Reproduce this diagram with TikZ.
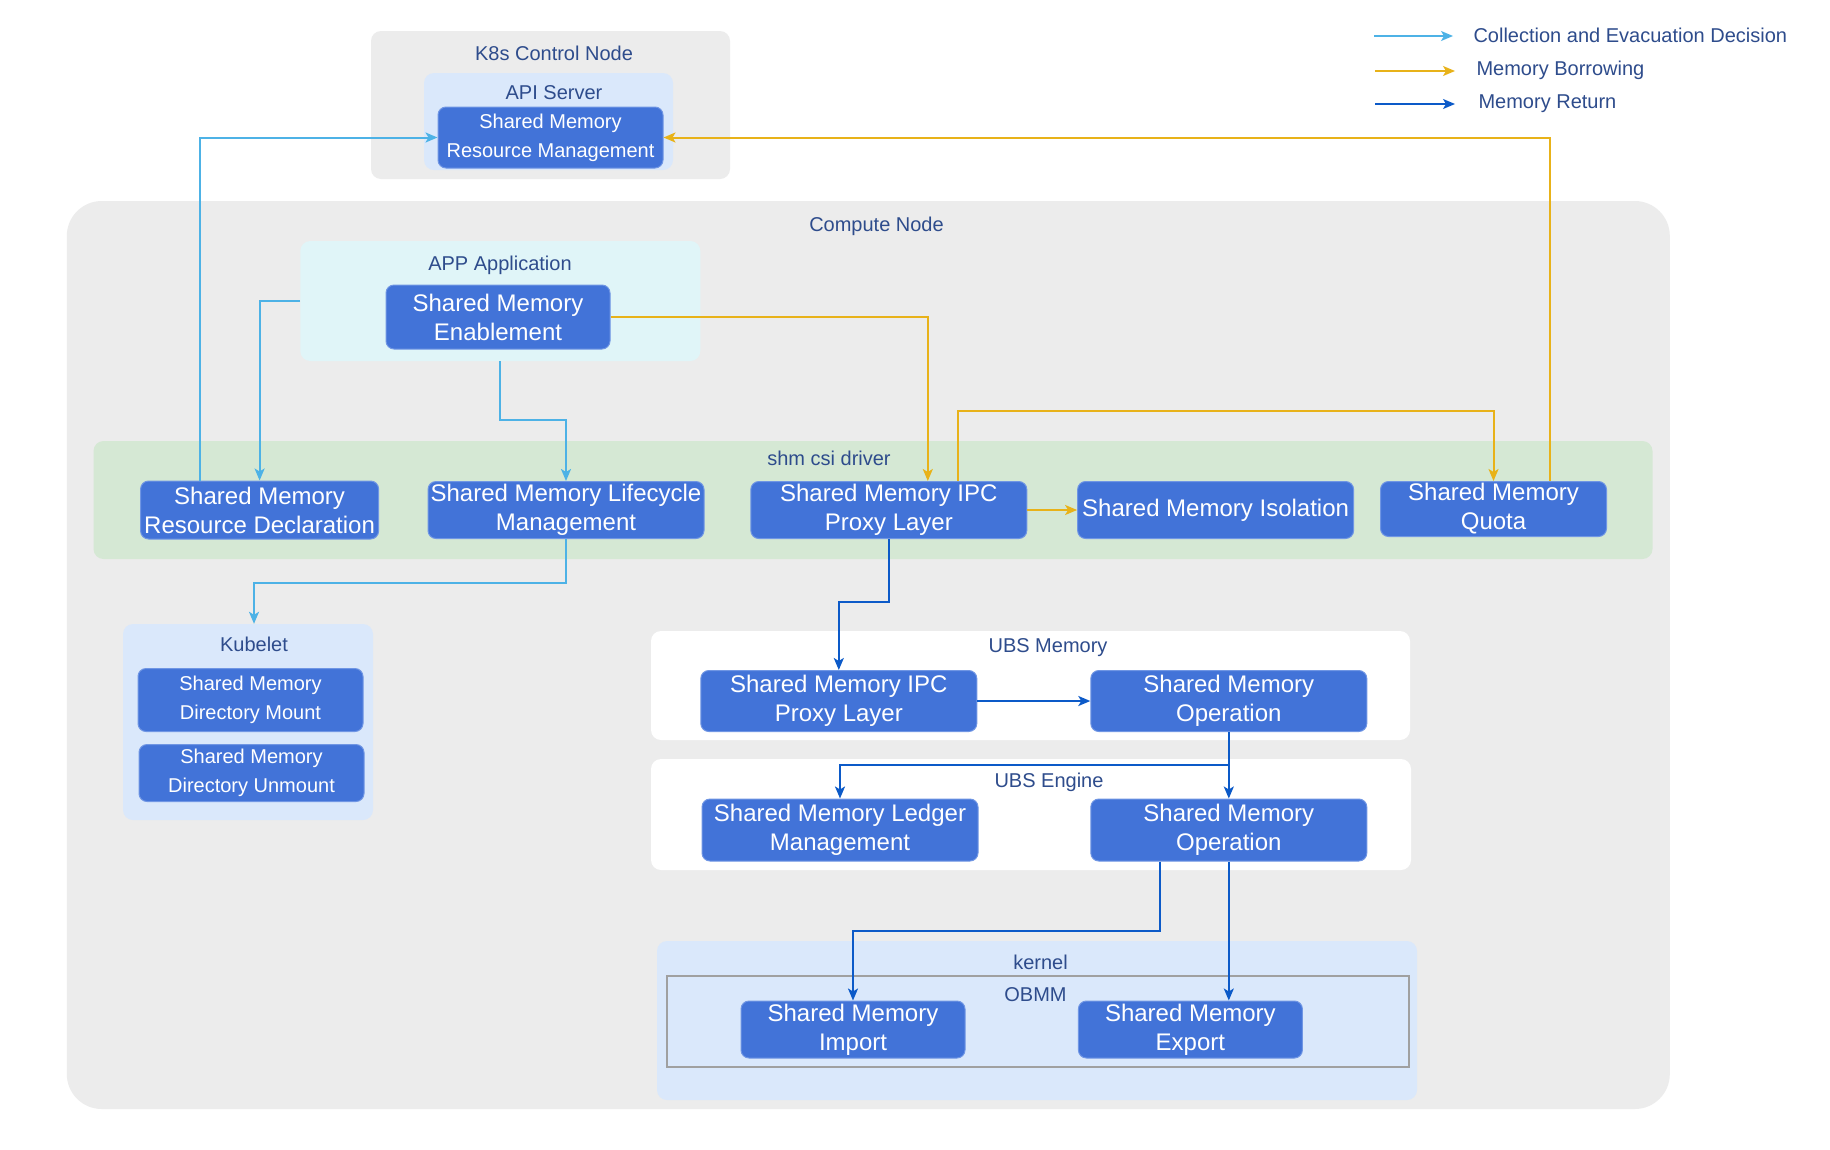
\documentclass[tikz,border=0pt]{standalone}
\usepackage{fontspec}
\setmainfont{Liberation Sans}
\usetikzlibrary{arrows.meta}

\definecolor{smfill}{RGB}{66,115,216}
\definecolor{smedge}{RGB}{112,150,228}
\definecolor{graybg}{RGB}{236,236,236}
\definecolor{paleblue}{RGB}{218,232,251}
\definecolor{palecyan}{RGB}{224,245,248}
\definecolor{palegreen}{RGB}{213,232,212}
\definecolor{labelblue}{RGB}{46,76,140}
\definecolor{cdblue}{RGB}{77,178,230}
\definecolor{mbyellow}{RGB}{232,178,25}
\definecolor{mrblue}{RGB}{12,90,200}
\definecolor{obmmgray}{RGB}{160,160,160}

\tikzset{
  smbox/.style={draw=smedge, fill=smfill, text=white, rounded corners=8pt, align=center,
    line width=1pt, inner sep=0pt, font=\fontsize{24}{29}\selectfont},
  smsmall/.style={smbox, font=\fontsize{20}{29}\selectfont},
  group/.style={rounded corners=10pt, inner sep=0pt},
  grouplabel/.style={text=labelblue, font=\fontsize{20}{24}\selectfont},
  cd/.style={draw=cdblue, line width=2pt, -{Stealth[length=12pt,width=10pt,inset=3pt]}},
  mb/.style={draw=mbyellow, line width=2pt, -{Stealth[length=12pt,width=10pt,inset=3pt]}},
  mr/.style={draw=mrblue, line width=2pt, -{Stealth[length=12pt,width=10pt,inset=3pt]}}
}

\begin{document}
\begin{tikzpicture}[x=1pt, y=-1pt]
    \useasboundingbox[fill=white] (0,0) rectangle (1830,1149);

    % Draw the K8s control node
    \node[group, fill=graybg, minimum width=359pt, minimum height=148pt] (k8s) at (550.5,105) {};
    \node[grouplabel] (k8slbl) at (554,53) {K8s Control Node};
    \node[group, fill=paleblue, minimum width=249pt, minimum height=97pt] (apisrv) at (548.5,121.5) {};
    \node[grouplabel] (apilbl) at (554,93) {API Server};
    \node[smsmall, minimum width=225pt, minimum height=61pt] (smrm) at (550.5,137.5) {Shared Memory\\Resource Management};

    % Draw the compute node
    \node[group, rounded corners=35pt, fill=graybg, minimum width=1603pt, minimum height=908pt] (compute) at (868.3,655) {};
    \node[grouplabel] (computelbl) at (876.5,226) {Compute Node};

    % APP application
    \node[group, fill=palecyan, minimum width=400pt, minimum height=120pt] (app) at (500.3,301) {};
    \node[grouplabel] (applbl) at (500,265) {APP Application};
    \node[smbox, minimum width=224pt, minimum height=64pt] (sme) at (498,317) {Shared Memory\\Enablement};

    % shm csi driver
    \node[group, fill=palegreen, minimum width=1559pt, minimum height=118pt] (csi) at (873,500) {};
    \node[grouplabel] (csilbl) at (829,458) {shm csi driver};
    \node[smbox, minimum width=238pt, minimum height=58pt] (decl) at (259.6,510) {Shared Memory\\Resource Declaration};
    \node[smbox, minimum width=276pt, minimum height=57pt] (life) at (566,510) {Shared Memory Lifecycle\\Management};
    \node[smbox, minimum width=276pt, minimum height=57pt] (ipc) at (888.8,510) {Shared Memory IPC\\Proxy Layer};
    \node[smbox, minimum width=276pt, minimum height=57pt] (iso) at (1215.6,510) {Shared Memory Isolation};
    \node[smbox, minimum width=226pt, minimum height=55pt] (quota) at (1493.5,509) {Shared Memory\\Quota};

    % Kubelet
    \node[group, fill=paleblue, minimum width=250pt, minimum height=196pt] (kubelet) at (248,722) {};
    \node[grouplabel] (kubeletlbl) at (254,644) {Kubelet};
    \node[smsmall, minimum width=225pt, minimum height=63pt] (mount) at (250.5,700) {Shared Memory\\Directory Mount};
    \node[smsmall, minimum width=225pt, minimum height=57pt] (unmount) at (251.5,773) {Shared Memory\\Directory Unmount};

    % UBS Memory
    \node[group, fill=white, minimum width=759pt, minimum height=109pt] (ubsmem) at (1030.5,685.5) {};
    \node[grouplabel] (ubsmemlbl) at (1048,648) {UBS Memory};
    \node[smbox, minimum width=276pt, minimum height=61pt] (ubsipc) at (838.8,701) {Shared Memory IPC\\Proxy Layer};
    \node[smbox, minimum width=276pt, minimum height=61pt] (ubsop) at (1228.8,701) {Shared Memory\\Operation};

    % UBS Engine
    \node[group, fill=white, minimum width=760pt, minimum height=111pt] (ubseng) at (1031,814.5) {};
    \node[grouplabel] (ubsenglbl) at (1049,782) {UBS Engine};
    \node[smbox, minimum width=276pt, minimum height=62pt] (ledger) at (840,830) {Shared Memory Ledger\\Management};
    \node[smbox, minimum width=276pt, minimum height=62pt] (engop) at (1228.8,830) {Shared Memory\\Operation};

    % kernel and OBMM
    \node[group, fill=paleblue, minimum width=760pt, minimum height=159pt] (kernel) at (1037,1020.5) {};
    \node[grouplabel] (kernellbl) at (1040.5,962) {kernel};
    \node[draw=obmmgray, line width=2pt, minimum width=742pt, minimum height=91pt, inner sep=0pt] (obmm) at (1038,1021.5) {};
    \node[grouplabel] (obmmlbl) at (1035.5,995) {OBMM};
    \node[smbox, minimum width=224pt, minimum height=57pt] (import) at (853,1029.5) {Shared Memory\\Import};
    \node[smbox, minimum width=224pt, minimum height=57pt] (export) at (1190.4,1029.5) {Shared Memory\\Export};

    % Collection and evacuation decision
    \draw[cd] ([xshift=-60pt]decl.north) |- (smrm.west);
    \draw[cd] (app.west) -| (decl.north);
    \draw[cd] (app.south) -- ++(0,59) -| (life.north);
    \draw[cd] (life.south) -- ++(0,44) -| ([xshift=6pt]kubelet.north);

    % Memory borrowing
    \draw[mb] (sme.east) -| ([xshift=39pt]ipc.north);
    \draw[mb] ([xshift=69pt]ipc.north) -- ++(0,-70) -| (quota.north);
    \draw[mb] ([xshift=56.5pt]quota.north) |- (smrm.east);
    \draw[mb] (ipc.east) -- (iso.west);

    % Memory return
    \draw[mr] (ipc.south) -- ++(0,63) -| (ubsipc.north);
    \draw[mr] (ubsipc.east) -- (ubsop.west);
    \draw[mr] (ubsop.south) -- (engop.north);
    \draw[mr] ([yshift=-33pt]ubsop.south) -| (ledger.north);
    \draw[mr] ([xshift=-69pt]engop.south) -- ++(0,69) -| (import.north);
    \draw[mr] (engop.south) -- (engop.south |- export.north);

    % Legend
    \coordinate (cdstart) at (1374,36);
    \coordinate (mbstart) at (1375,71);
    \coordinate (mrstart) at (1375,104);
    \node[grouplabel, anchor=west] (cdlbl) at (1470,35) {Collection and Evacuation Decision};
    \node[grouplabel, anchor=west] (mblbl) at (1473,70) {Memory Borrowing};
    \node[grouplabel, anchor=west] (mrlbl) at (1475,104) {Memory Return};
    \draw[cd, line width=1.5pt] (cdstart) -- ++(79,0);
    \draw[mb, line width=1.5pt] (mbstart) -- ++(80,0);
    \draw[mr, line width=1.5pt] (mrstart) -- ++(80,0);
\end{tikzpicture}
\end{document}
